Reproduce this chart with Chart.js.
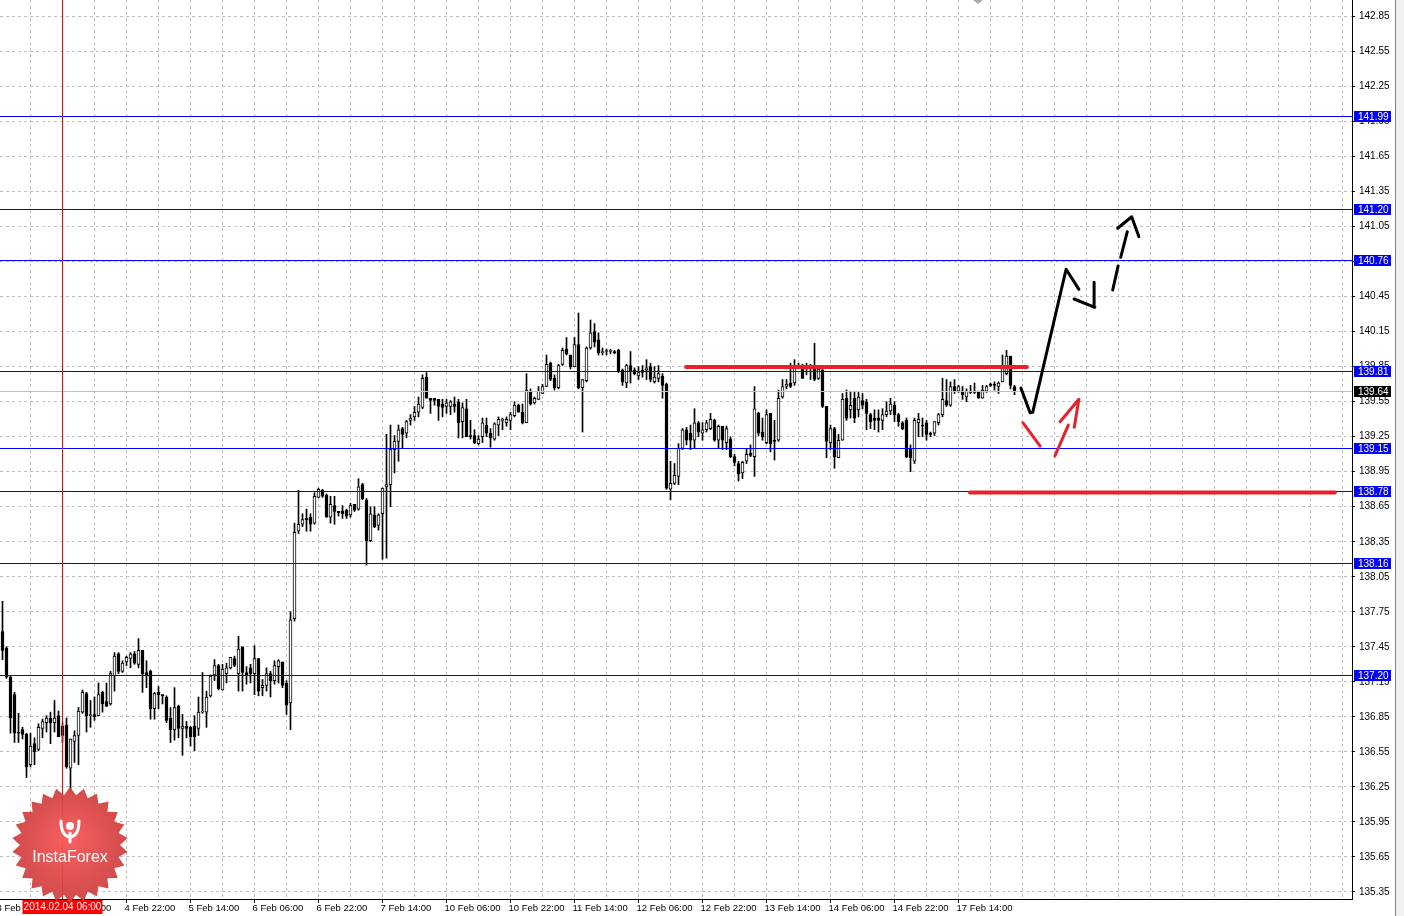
<!DOCTYPE html>
<html lang="en">
  <head>
    <meta charset="UTF-8" />
    <title>H1 chart</title>
    <style>
      html, body { margin: 0; padding: 0; background: #fff; }
      #wrap { width: 1404px; height: 916px; }
    </style>
  </head>
  <body>
    <div id="wrap"><canvas id="myChart" width="1404" height="916"></canvas></div>
  </body>
  <script src="https://cdnjs.cloudflare.com/ajax/libs/Chart.js/4.4.0/chart.umd.min.js"></script>
  <script>
    // H1 candles, bar n is drawn at n on the time axis (bar 0 = 3 Feb 14:00)
    const openP = [
      137.58,137.44,137.19,137.04,136.72,136.74,136.70,136.44,136.62,136.57,136.75,136.80,136.84,136.80,136.86,136.77,
      136.78,136.41,136.64,136.69,136.89,137.05,136.86,136.87,136.86,137.06,136.98,136.96,137.20,137.39,137.24,137.32,
      137.35,137.39,137.30,137.42,137.23,137.24,136.92,137.06,137.04,137.02,136.84,136.74,136.94,136.75,136.77,136.76,
      136.77,136.75,136.89,136.89,137.03,137.21,137.29,137.08,137.22,137.27,137.35,137.22,137.45,137.23,137.27,137.22,
      137.35,137.10,137.12,137.22,137.16,137.28,137.32,137.14,136.97,137.69,138.44,138.50,138.55,138.56,138.51,138.73,
      138.79,138.75,138.56,138.66,138.61,138.61,138.62,138.58,138.67,138.63,138.84,138.71,138.36,138.58,138.49,138.59,
      138.82,138.84,139.14,139.21,139.32,139.28,139.39,139.42,139.46,139.50,139.76,139.58,139.58,139.57,139.53,139.51,
      139.51,139.53,139.55,139.38,139.49,139.26,139.26,139.19,139.25,139.35,139.28,139.23,139.35,139.39,139.37,139.39,
      139.43,139.52,139.46,139.37,139.64,139.54,139.57,139.62,139.68,139.88,139.75,139.67,139.87,140.00,139.95,139.85,
      140.04,139.67,139.73,140.01,140.15,140.08,139.97,139.98,139.98,139.98,139.99,139.82,139.71,139.86,139.82,139.77,
      139.82,139.82,139.85,139.72,139.75,139.77,139.70,138.80,138.85,138.91,139.15,139.31,139.28,139.22,139.37,139.28,
      139.31,139.32,139.39,139.22,139.34,139.20,139.23,139.08,139.02,138.94,139.04,139.11,139.08,139.45,139.29,139.20,
      139.45,139.22,139.22,139.59,139.68,139.71,139.71,139.85,139.86,139.84,139.83,139.86,139.75,139.82,139.51,139.20,
      139.32,139.07,139.22,139.58,139.48,139.58,139.48,139.56,139.55,139.44,139.41,139.41,139.39,139.44,139.47,139.52,
      139.44,139.37,139.39,139.15,139.04,139.37,139.35,139.37,139.28,139.28,139.37,139.44,139.56,139.52,139.68,139.64,
      139.64,139.59,139.63,139.63,139.64,139.58,139.64,139.70,139.70,139.68,139.72,139.79,139.94,139.68,
    ];
    const highP = [
      137.84,137.45,137.20,137.06,136.88,136.76,136.71,136.71,136.67,136.79,136.83,136.86,136.89,136.99,136.90,136.80,
      136.84,136.66,136.73,136.93,137.08,137.06,136.99,137.02,137.14,137.07,137.14,137.24,137.40,137.40,137.33,137.37,
      137.40,137.41,137.52,137.42,137.33,137.25,137.06,137.11,137.04,137.03,136.93,137.10,136.95,136.87,136.81,136.77,
      136.86,137.02,137.23,137.07,137.21,137.34,137.30,137.30,137.31,137.36,137.37,137.54,137.45,137.28,137.30,137.46,
      137.35,137.17,137.27,137.24,137.33,137.34,137.32,137.16,137.75,138.51,138.79,138.59,138.63,138.59,138.77,138.81,
      138.80,138.76,138.74,138.74,138.61,138.66,138.63,138.68,138.67,138.89,138.85,138.72,138.65,138.65,138.59,138.81,
      139.27,139.35,139.26,139.35,139.33,139.39,139.44,139.51,139.59,139.78,139.80,139.58,139.58,139.57,139.57,139.57,
      139.56,139.59,139.57,139.54,139.57,139.39,139.31,139.26,139.41,139.41,139.32,139.37,139.42,139.41,139.42,139.46,
      139.55,139.53,139.53,139.79,139.66,139.59,139.68,139.70,139.95,139.89,139.78,139.87,140.01,140.10,139.95,140.10,
      140.31,139.74,140.02,140.25,140.22,140.14,140.01,140.00,140.00,139.99,140.00,139.83,139.87,139.98,139.84,139.85,
      139.86,139.91,139.88,139.85,139.86,139.79,139.71,139.04,139.02,139.19,139.32,139.33,139.35,139.49,139.38,139.37,
      139.39,139.45,139.40,139.35,139.34,139.34,139.25,139.10,139.04,139.04,139.15,139.18,139.68,139.46,139.41,139.48,
      139.45,139.39,139.65,139.74,139.74,139.88,139.91,139.88,139.87,139.88,139.87,140.05,139.84,139.83,139.51,139.35,
      139.33,139.27,139.62,139.65,139.64,139.64,139.63,139.62,139.57,139.45,139.48,139.48,139.49,139.55,139.58,139.55,
      139.45,139.38,139.41,139.18,139.41,139.45,139.41,139.39,139.29,139.38,139.45,139.75,139.74,139.72,139.74,139.69,
      139.68,139.66,139.69,139.71,139.64,139.69,139.69,139.71,139.72,139.72,139.95,139.99,139.94,139.69,
    ];
    const lowP = [
      137.34,137.18,136.71,136.63,136.63,136.66,136.33,136.42,136.44,136.56,136.67,136.72,136.62,136.72,136.68,136.63,
      136.41,136.22,136.46,136.44,136.88,136.72,136.76,136.82,136.86,136.89,136.94,136.95,137.07,137.22,137.23,137.29,
      137.27,137.30,137.27,137.06,137.10,136.83,136.83,136.92,136.96,136.80,136.63,136.65,136.67,136.52,136.67,136.60,
      136.56,136.69,136.88,136.76,137.02,137.16,137.08,137.08,137.14,137.26,137.28,137.07,137.07,137.13,137.14,137.04,
      137.03,137.03,137.07,137.02,137.13,137.14,137.10,136.87,136.74,137.67,138.42,138.48,138.44,138.44,138.50,138.73,
      138.73,138.56,138.51,138.50,138.57,138.55,138.55,138.56,138.61,138.62,138.71,138.15,138.35,138.47,138.45,138.20,
      138.21,138.65,138.94,139.04,139.15,139.24,139.35,139.39,139.42,139.49,139.58,139.45,139.52,139.39,139.42,139.45,
      139.44,139.46,139.24,139.24,139.25,139.23,139.19,139.18,139.20,139.25,139.16,139.22,139.26,139.31,139.34,139.31,
      139.42,139.46,139.36,139.37,139.52,139.53,139.57,139.62,139.68,139.73,139.65,139.66,139.86,139.95,139.83,139.85,
      139.66,139.29,139.72,140.00,140.02,139.95,139.95,139.95,139.96,139.96,139.80,139.69,139.67,139.71,139.78,139.74,
      139.76,139.74,139.72,139.71,139.72,139.58,138.80,138.71,138.84,138.84,139.14,139.18,139.14,139.15,139.25,139.22,
      139.29,139.31,139.21,139.15,139.14,139.14,139.07,139.00,138.87,138.89,139.02,139.08,138.91,139.26,139.22,139.19,
      139.12,139.05,139.21,139.58,139.66,139.67,139.69,139.84,139.75,139.78,139.74,139.73,139.74,139.50,139.07,139.14,
      138.98,139.07,139.22,139.39,139.41,139.37,139.42,139.49,139.31,139.32,139.31,139.29,139.31,139.42,139.44,139.38,
      139.34,139.31,139.07,138.95,139.02,139.25,139.25,139.22,139.25,139.26,139.35,139.42,139.51,139.51,139.62,139.63,
      139.57,139.55,139.62,139.62,139.58,139.58,139.63,139.68,139.65,139.62,139.72,139.78,139.66,139.61,
    ];
    const closeP = [
      137.42,137.19,136.84,136.71,136.71,136.70,136.42,136.60,136.55,136.76,136.81,136.84,136.80,136.84,136.68,136.69,
      136.42,136.66,136.69,136.90,137.06,136.86,136.87,136.85,137.04,136.96,136.94,137.22,137.37,137.24,137.31,137.36,
      137.39,137.31,137.42,137.22,137.21,136.92,137.05,137.04,137.03,136.82,136.74,136.93,136.75,136.77,136.75,136.68,
      136.68,136.89,136.90,137.02,137.20,137.29,137.09,137.26,137.27,137.36,137.29,137.43,137.23,137.21,137.22,137.35,
      137.07,137.12,137.22,137.16,137.29,137.33,137.12,136.95,137.68,138.43,138.50,138.54,138.54,138.50,138.74,138.80,
      138.74,138.56,138.67,138.61,138.60,138.59,138.57,138.66,138.62,138.82,138.72,138.36,138.59,138.48,138.58,138.81,
      138.84,139.14,139.21,139.31,139.27,139.38,139.41,139.46,139.53,139.75,139.58,139.56,139.56,139.51,139.50,139.54,
      139.55,139.51,139.37,139.50,139.25,139.25,139.20,139.23,139.37,139.28,139.24,139.36,139.40,139.40,139.40,139.44,
      139.52,139.46,139.37,139.65,139.53,139.58,139.64,139.68,139.87,139.74,139.67,139.86,139.99,139.96,139.85,140.04,
      139.67,139.74,140.01,140.14,140.06,139.97,139.98,139.98,139.98,139.97,139.81,139.72,139.86,139.81,139.79,139.80,
      139.80,139.84,139.74,139.76,139.79,139.69,138.81,138.85,138.92,139.15,139.31,139.22,139.22,139.37,139.29,139.31,
      139.37,139.40,139.22,139.34,139.22,139.32,139.08,139.03,138.93,139.03,139.10,139.09,139.49,139.28,139.25,139.44,
      139.19,139.21,139.58,139.68,139.70,139.68,139.86,139.86,139.75,139.83,139.86,139.74,139.83,139.51,139.21,139.32,
      139.08,139.22,139.57,139.41,139.52,139.41,139.59,139.52,139.45,139.38,139.39,139.39,139.44,139.47,139.53,139.44,
      139.38,139.32,139.08,139.07,139.39,139.40,139.34,139.27,139.27,139.38,139.44,139.57,139.52,139.68,139.64,139.68,
      139.61,139.64,139.64,139.64,139.58,139.65,139.68,139.69,139.69,139.71,139.86,139.94,139.69,139.64,
    ];

    // one label every 16 bars, starting at bar 0
    const timeLabels = [
      "3 Feb 14:00", "4 Feb 06:00", "4 Feb 22:00", "5 Feb 14:00", "6 Feb 06:00",
      "6 Feb 22:00", "7 Feb 14:00", "10 Feb 06:00", "10 Feb 22:00", "11 Feb 14:00",
      "12 Feb 06:00", "12 Feb 22:00", "13 Feb 14:00", "14 Feb 06:00", "14 Feb 22:00",
      "17 Feb 14:00",
    ];
    const priceTicks = [
      135.35, 135.65, 135.95, 136.25, 136.55, 136.85, 137.15, 137.45, 137.75,
      138.05, 138.35, 138.65, 138.95, 139.25, 139.55, 139.85, 140.15, 140.45,
      140.75, 141.05, 141.35, 141.65, 141.95, 142.25, 142.55, 142.85,
    ];

    // horizontal levels with their label on the price axis
    const levelPrices = [141.99, 141.2, 140.76, 139.81, 139.15, 138.78, 138.16, 137.2];
    const bidPrice = 139.64;
    const markedBar = 16;
    const markedLabel = "2014.02.04 06:00";

    // hand drawn marks: [bar, price] points
    const redLines = [
      [[171.9, 139.847], [257.1, 139.847]],
      [[242.9, 138.772], [334.1, 138.772]],
    ];
    const redStrokes = [
      [[256.1, 139.37], [260.4, 139.17]],
      [[264.1, 139.085], [267.45, 139.35]],
      [[265.4, 139.379], [270.1, 139.571], [268.95, 139.331]],
    ];
    const blackStrokes = [
      [[255.6, 139.667], [257.9, 139.456], [258.55, 139.459], [266.9, 140.685], [270.1, 140.513]],
      [[268.9, 140.43], [274.1, 140.359], [273.9, 140.573]],
      [[278.55, 140.507], [279.9, 140.713]],
      [[280.55, 140.787], [282.2, 141.007]],
      [[279.8, 141.036], [283.3, 141.135], [285.1, 140.964]],
    ];

    const FONT = '"Liberation Sans", Arial, sans-serif';
    const RED = "rgb(232, 32, 40)";

    const bodyData = openP.map((o, k) => ({ x: k + 1, y: [o, closeP[k]] }));
    const wickData = openP.map((o, k) => ({ x: k + 1, y: [lowP[k], highP[k]] }));
    const bodyColors = openP.map((o, k) => (closeP[k] >= o ? "#ffffff" : "#000000"));

    function stroke(points, color, width) {
      return {
        type: "line",
        data: points.map((p) => ({ x: p[0], y: p[1] })),
        borderColor: color,
        borderWidth: width,
        borderCapStyle: "round",
        borderJoinStyle: "round",
        pointRadius: 0,
        fill: false,
        tension: 0,
        order: 0,
      };
    }

    function drawLogo(c, cx, cy) {
      const spikes = 26;
      c.beginPath();
      for (let i = 0; i < spikes * 2; i++) {
        const r = i % 2 ? 50 : 58;
        const t = (Math.PI * i) / spikes - Math.PI / 2;
        c.lineTo(cx + r * Math.cos(t), cy + r * Math.sin(t));
      }
      c.closePath();
      const g = c.createRadialGradient(cx, cy - 8, 4, cx, cy, 58);
      g.addColorStop(0, "rgba(246, 88, 88, 0.96)");
      g.addColorStop(1, "rgba(206, 60, 60, 0.92)");
      c.fillStyle = g;
      c.fill();
      // emblem
      c.fillStyle = "#fff";
      c.strokeStyle = "#fff";
      c.beginPath();
      c.arc(cx, cy - 19, 4, 0, Math.PI * 2);
      c.fill();
      c.lineWidth = 3;
      c.lineCap = "round";
      c.beginPath();
      c.moveTo(cx - 9, cy - 24);
      c.quadraticCurveTo(cx - 9, cy - 9, cx, cy - 8);
      c.quadraticCurveTo(cx + 9, cy - 9, cx + 9, cy - 24);
      c.stroke();
      c.beginPath();
      c.moveTo(cx, cy - 12);
      c.lineTo(cx, cy - 3);
      c.stroke();
      c.font = "16px " + FONT;
      c.textAlign = "center";
      c.textBaseline = "middle";
      c.fillText("InstaForex", cx, cy + 13);
    }

    const overlay = {
      id: "overlay",
      beforeDraw(chart) {
        const c = chart.ctx;
        c.save();
        c.fillStyle = "#fff";
        c.fillRect(0, 0, chart.width, chart.height);
        c.fillStyle = "#f0f0f0";
        c.fillRect(1396, 0, chart.width - 1396, chart.height);
        c.fillStyle = "#808080";
        c.fillRect(1395, 0, 1, chart.height);
        c.restore();
      },
      // levels sit over the candles but under the hand drawn marks
      afterDatasetDraw(chart, args) {
        if (chart.data.datasets[args.index].label !== "body") return;
        const { ctx: c, chartArea: a, scales } = chart;
        c.save();
        c.beginPath();
        c.rect(a.left, a.top, a.right - a.left, a.bottom - a.top);
        c.clip();
        c.lineWidth = 1;
        const hline = (p, color) => {
          const py = Math.floor(scales.y.getPixelForValue(p)) + 0.5;
          c.strokeStyle = color;
          c.beginPath();
          c.moveTo(a.left, py);
          c.lineTo(a.right, py);
          c.stroke();
        };
        hline(bidPrice, "#c0c0c0");
        levelPrices.forEach((p) => hline(p, "#0000ff"));
        const px = Math.floor(scales.x.getPixelForValue(markedBar)) + 0.5;
        c.strokeStyle = "#ff0000";
        c.beginPath();
        c.moveTo(px, a.top);
        c.lineTo(px, a.bottom);
        c.stroke();
        c.restore();
      },
      afterDraw(chart) {
        const { ctx: c, chartArea: a, scales } = chart;
        c.save();
        c.font = "10px " + FONT;
        c.textBaseline = "middle";
        c.textAlign = "left";
        const tag = (p, bg) => {
          const py = Math.floor(scales.y.getPixelForValue(p));
          c.fillStyle = bg;
          c.fillRect(a.right + 2, py - 5, 37, 11);
          c.fillStyle = "#fff";
          c.fillText(p.toFixed(2), a.right + 6, py + 1);
        };
        levelPrices.forEach((p) => tag(p, "#0000ff"));
        tag(bidPrice, "#000");

        // selected time on the time axis
        const px = Math.floor(scales.x.getPixelForValue(markedBar)) + 0.5;
        c.fillStyle = "#ff0000";
        c.fillRect(px - 40, a.bottom + 1, 80, 14);
        c.fillStyle = "#fff";
        c.textAlign = "center";
        c.fillText(markedLabel, px, a.bottom + 8);

        // shift marker
        c.fillStyle = "#a8a8a8";
        c.beginPath();
        c.moveTo(973, 0);
        c.lineTo(983, 0);
        c.lineTo(978, 4);
        c.closePath();
        c.fill();

        c.beginPath();
        c.rect(a.left, a.top, a.right - a.left, a.bottom - a.top + 3);
        c.clip();
        drawLogo(c, 70, 845);
        c.restore();
      },
    };

    const datasets = [
      ...redLines.map((s) => stroke(s, RED, 4)),
      ...redStrokes.map((s) => stroke(s, RED, 3)),
      ...blackStrokes.map((s) => stroke(s, "#000", 3)),
      {
        label: "body",
        data: bodyData,
        backgroundColor: bodyColors,
        borderColor: "#000",
        borderWidth: 1,
        borderSkipped: false,
        barThickness: 3,
        minBarLength: 1,
        grouped: false,
        order: 1,
      },
      {
        label: "wick",
        data: wickData,
        backgroundColor: "#000",
        borderWidth: 0,
        barThickness: 1,
        grouped: false,
        order: 2,
      },
    ];

    new Chart(document.getElementById("myChart"), {
      type: "bar",
      data: { datasets: datasets },
      plugins: [overlay],
      options: {
        responsive: false,
        maintainAspectRatio: false,
        devicePixelRatio: 1,
        animation: false,
        layout: { padding: 0 },
        plugins: { legend: { display: false }, tooltip: { enabled: false } },
        scales: {
          x: {
            type: "linear",
            position: "bottom",
            min: 0.375,
            max: 338.375,
            offset: false,
            afterBuildTicks: (s) => {
              const t = [];
              for (let v = 0; v <= 336; v += 8) t.push({ value: v });
              s.ticks = t;
            },
            afterFit: (s) => {
              s.height = 17;
              s.paddingLeft = 0;
              s.paddingRight = 0;
            },
            ticks: {
              autoSkip: false,
              maxRotation: 0,
              minRotation: 0,
              align: "start",
              labelOffset: -2,
              padding: 0,
              color: "#000",
              font: { family: FONT, size: 9.5 },
              callback: (v) => (v % 16 === 0 ? timeLabels[v / 16] || "" : ""),
            },
            grid: {
              offset: false,
              color: "#c0c0c0",
              tickLength: 4,
              tickColor: (ctx) =>
                ctx.tick && ctx.tick.value % 16 === 0 && ctx.tick.value / 16 < timeLabels.length
                  ? "#000"
                  : "rgba(0,0,0,0)",
            },
            border: { display: true, color: "#000", dash: [3, 3] },
          },
          y: {
            type: "linear",
            position: "right",
            min: 135.289,
            max: 142.992,
            afterBuildTicks: (s) => {
              s.ticks = priceTicks.map((v) => ({ value: v }));
            },
            afterFit: (s) => {
              s.width = 52;
              s.paddingTop = 0;
              s.paddingBottom = 0;
            },
            ticks: {
              padding: 4,
              color: "#000",
              font: { family: FONT, size: 10 },
              callback: (v) => Number(v).toFixed(2),
            },
            grid: { color: "#c0c0c0", tickLength: 3, tickColor: "#000" },
            border: { display: true, color: "#000", dash: [3, 3] },
          },
        },
      },
    });
  </script>
</html>
